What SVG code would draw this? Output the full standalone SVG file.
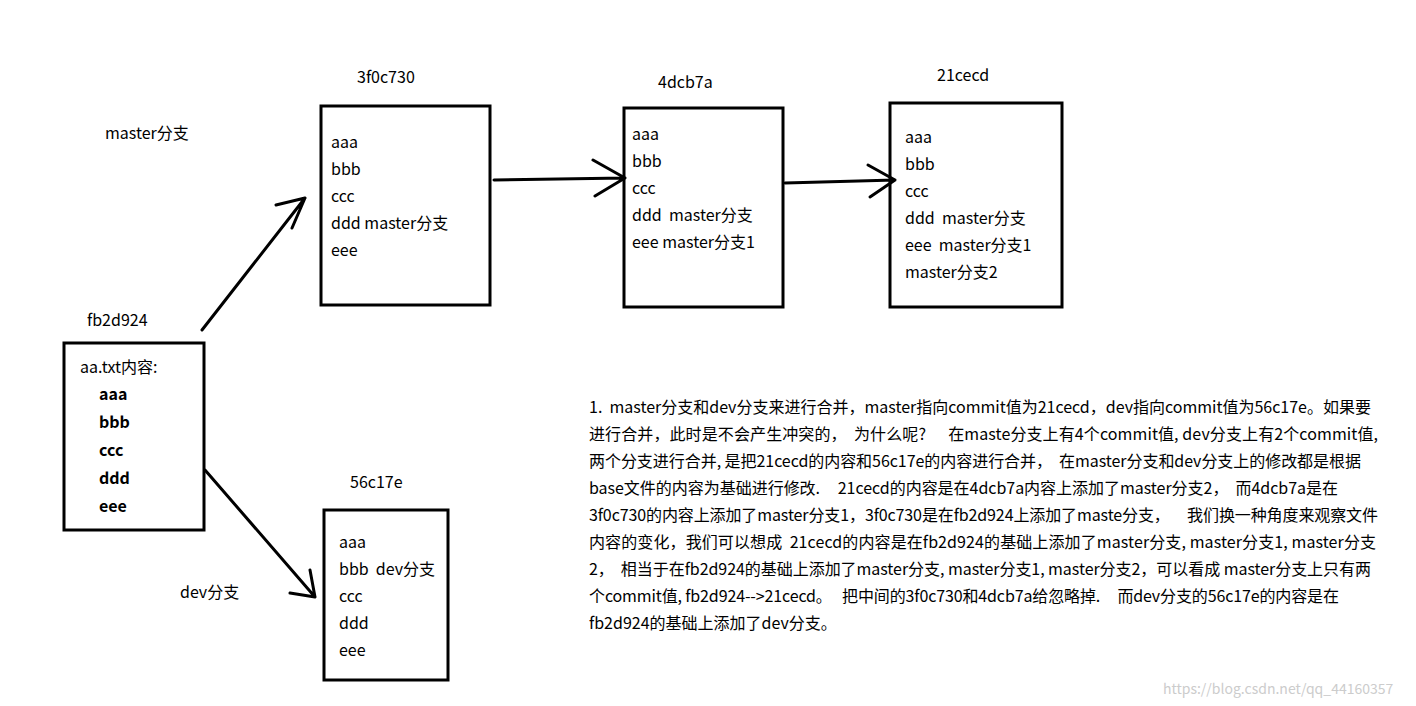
<svg xmlns="http://www.w3.org/2000/svg" width="1416" height="706" viewBox="0 0 1416 706" xml:space="preserve">
<style>
text{font-family:"Noto Sans CJK SC","Liberation Sans",sans-serif;font-size:16px;fill:#000;white-space:pre}
.b{font-weight:bold}
.box{fill:#fff;stroke:#000;stroke-width:3}
.c{fill:none;stroke:#000;stroke-width:3;stroke-linecap:round;stroke-linejoin:round}
.w{font-size:14px;fill:#ccc}
</style>
<rect width="1416" height="706" fill="#fff"/>
<text x="105" y="139">master分支</text>
<text x="180" y="598">dev分支</text>
<g id="n-fb2d924">
<text x="87" y="326">fb2d924</text>
<rect class="box" x="64" y="343" width="140" height="187"/>
<text x="80" y="373">aa.txt内容:</text>
<text class="b" x="99" y="400">aaa</text>
<text class="b" x="99" y="428">bbb</text>
<text class="b" x="99" y="456">ccc</text>
<text class="b" x="99" y="484">ddd</text>
<text class="b" x="99" y="512">eee</text>
</g>
<g id="n-3f0c730">
<text x="357" y="83">3f0c730</text>
<rect class="box" x="321" y="106" width="169" height="199"/>
<text x="331" y="148">aaa</text><text x="331" y="175">bbb</text><text x="331" y="202">ccc</text><text x="331" y="229">ddd master分支</text><text x="331" y="256">eee</text>
</g>
<g id="n-4dcb7a">
<text x="658" y="88">4dcb7a</text>
<rect class="box" x="624" y="108" width="159" height="199"/>
<text x="632" y="140">aaa</text><text x="632" y="167">bbb</text><text x="632" y="194">ccc</text><text x="632" y="221">ddd  master分支</text><text x="632" y="248">eee master分支1</text>
</g>
<g id="n-21cecd">
<text x="937" y="81">21cecd</text>
<rect class="box" x="890" y="103" width="172" height="204"/>
<text x="905" y="143">aaa</text><text x="905" y="170">bbb</text><text x="905" y="197">ccc</text><text x="905" y="224">ddd  master分支</text><text x="905" y="251">eee  master分支1</text><text x="905" y="278">master分支2</text>
</g>
<g id="n-56c17e">
<text x="350" y="488">56c17e</text>
<rect class="box" x="324" y="510" width="124" height="170"/>
<text x="339" y="548">aaa</text><text x="339" y="575">bbb  dev分支</text><text x="339" y="602">ccc</text><text x="339" y="629">ddd</text><text x="339" y="656">eee</text>
</g>
<g id="connectors">
<path class="c" d="M202 330L305 198M276 205L305 198L292 228"/>
<path class="c" d="M494 180L625 178M593 160L625 178L595 196"/>
<path class="c" d="M785 183L895 180M868 165L895 180L870 197"/>
<path class="c" d="M205 470L315 597M290 593L315 597L310 570"/>
</g>
<g id="note">
<text x="589" y="413" textLength="782" lengthAdjust="spacing">1.  master分支和dev分支来进行合并，master指向commit值为21cecd，dev指向commit值为56c17e。如果要</text>
<text x="589" y="440" textLength="789" lengthAdjust="spacing">进行合并，此时是不会产生冲突的，  为什么呢?      在maste分支上有4个commit值, dev分支上有2个commit值,</text>
<text x="589" y="467" textLength="772" lengthAdjust="spacing">两个分支进行合并, 是把21cecd的内容和56c17e的内容进行合并，  在master分支和dev分支上的修改都是根据</text>
<text x="589" y="494" textLength="749" lengthAdjust="spacing">base文件的内容为基础进行修改.     21cecd的内容是在4dcb7a内容上添加了master分支2，  而4dcb7a是在</text>
<text x="589" y="521" textLength="789" lengthAdjust="spacing">3f0c730的内容上添加了master分支1，3f0c730是在fb2d924上添加了maste分支，     我们换一种角度来观察文件</text>
<text x="589" y="548" textLength="787" lengthAdjust="spacing">内容的变化，我们可以想成  21cecd的内容是在fb2d924的基础上添加了master分支, master分支1, master分支</text>
<text x="589" y="575" textLength="782" lengthAdjust="spacing">2，  相当于在fb2d924的基础上添加了master分支, master分支1, master分支2，可以看成 master分支上只有两</text>
<text x="589" y="602" textLength="750" lengthAdjust="spacing">个commit值, fb2d924-->21cecd。   把中间的3f0c730和4dcb7a给忽略掉.     而dev分支的56c17e的内容是在</text>
<text x="589" y="629">fb2d924的基础上添加了dev分支。</text>
</g>
<text class="w" x="1163" y="694">https://blog.csdn.net/qq_44160357</text>
</svg>
